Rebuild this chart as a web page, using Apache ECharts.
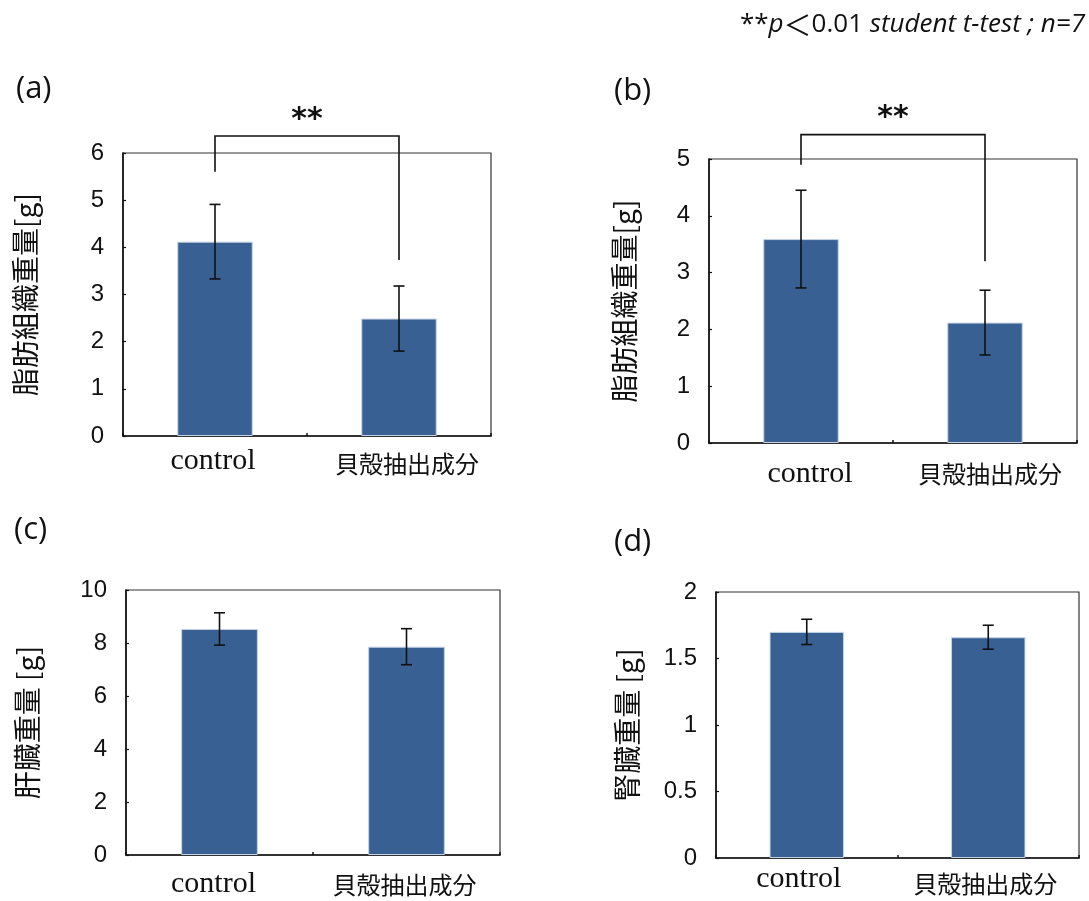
<!DOCTYPE html>
<html>
<head>
<meta charset="utf-8">
<script src="https://cdn.jsdelivr.net/npm/echarts@6/dist/echarts.min.js"></script>
<style>
  html, body { margin: 0; padding: 0; background: #fff; }
  #chart { width: 1089px; height: 901px; }
</style>
</head>
<body>
<div id="chart"></div>
<script>
// Groups
const categories = ['control', '貝殻抽出成分'];

// (a) adipose tissue weight [g]: mean and SD
const fatA = [4.12, 2.49];
const fatAErr = [0.79, 0.69];
// (b) adipose tissue weight [g]
const fatB = [3.59, 2.12];
const fatBErr = [0.86, 0.57];
// (c) liver weight [g]
const liver = [8.53, 7.86];
const liverErr = [0.61, 0.68];
// (d) kidney weight [g]
const kidney = [1.70, 1.66];
const kidneyErr = [0.095, 0.09];

// Significance brackets: [left leg start, bracket top, right leg end] in axis units
const bracketA = [5.6, 6.36, 3.73];
const bracketB = [4.9, 5.43, 3.2];

// Y-axis ranges: [max, interval]
const yRangeA = [6, 1];
const yRangeB = [5, 1];
const yRangeC = [10, 2];
const yRangeD = [2, 0.5];

const yNames = ['脂肪組織重量[g]', '脂肪組織重量[g]', '肝臓重量 [g]', '腎臓重量 [g]'];
const panelTags = ['(a)', '(b)', '(c)', '(d)'];
const noteText = '{n|**}{i|p}{c|＜}{n|0.01 }{i|student t-test ; n=7}';

const BAR = '#386092';
const sansJP = "'Noto Sans CJK JP', 'Noto Sans', sans-serif";

const grids = [
  { left: 123, top: 153, width: 368, height: 283 },
  { left: 709, top: 159, width: 368, height: 284 },
  { left: 126, top: 590, width: 374, height: 265 },
  { left: 716, top: 592, width: 363, height: 266 }
];
// per panel: [control label margin, control x shift, cjk label extra top, cjk x shift, name gap]
const labelTweaks = [
  [11, -2, 8, 8, 84],
  [17, 9, 2, 5, 71],
  [15, -6, 4, -2, 85],
  [7, -8, 12, -3, 75]
];

const panels = [
  { vals: fatA, err: fatAErr, range: yRangeA, bracket: bracketA },
  { vals: fatB, err: fatBErr, range: yRangeB, bracket: bracketB },
  { vals: liver, err: liverErr, range: yRangeC, bracket: null },
  { vals: kidney, err: kidneyErr, range: yRangeD, bracket: null }
];

function pad(shift, top) {
  return shift >= 0 ? [top, 0, 0, shift * 2] : [top, -shift * 2, 0, 0];
}

const xAxes = [], yAxes = [], series = [];
panels.forEach((p, i) => {
  const t = labelTweaks[i];
  xAxes.push({
    type: 'category', gridIndex: i, data: categories,
    axisLine: { lineStyle: { color: '#111', width: 1.6 } },
    axisTick: { show: true, inside: true, length: 3, lineStyle: { color: '#111', width: 1.5 } },
    axisLabel: {
      margin: t[0], interval: 0,
      formatter: (v, idx) => idx === 0 ? '{ser|' + v + '}' : '{cjk|' + v + '}',
      rich: {
        ser: { fontFamily: "'Liberation Serif', serif", fontSize: 30, lineHeight: 29, color: '#111', padding: pad(t[1], 0) },
        cjk: { fontFamily: sansJP, fontSize: 24, lineHeight: 26, color: '#111', padding: pad(t[3], t[2]) }
      }
    }
  });
  yAxes.push({
    type: 'value', gridIndex: i, min: 0, max: p.range[0], interval: p.range[1],
    name: yNames[i], nameLocation: 'middle', nameGap: t[4],
    nameTextStyle: { fontFamily: sansJP, fontSize: 28, color: '#111' },
    axisLine: { show: true, lineStyle: { color: '#111', width: 1.6 } },
    axisTick: { show: true, inside: true, length: 3, lineStyle: { color: '#111', width: 1.2 } },
    axisLabel: { margin: 19, fontFamily: "'Liberation Sans', Arial, sans-serif", fontSize: 24, color: '#111' },
    splitLine: { show: false }
  });
  series.push({
    type: 'bar', xAxisIndex: i, yAxisIndex: i, data: p.vals, barWidth: '41%',
    itemStyle: { color: BAR, borderColor: '#c3d2e6', borderWidth: 1 },
    silent: true, z: 2
  });
  series.push({
    type: 'custom', xAxisIndex: i, yAxisIndex: i, z: 5, silent: true,
    data: p.vals.map((v, k) => [k, v - p.err[k], v + p.err[k]]),
    renderItem: (params, api) => {
      const lo = api.coord([api.value(0), api.value(1)]);
      const hi = api.coord([api.value(0), api.value(2)]);
      const w = 5.5;
      const st = { stroke: '#111', lineWidth: 1.6 };
      return {
        type: 'group',
        children: [
          { type: 'line', shape: { x1: hi[0], y1: hi[1], x2: lo[0], y2: lo[1] }, style: st },
          { type: 'line', shape: { x1: hi[0] - w, y1: hi[1], x2: hi[0] + w, y2: hi[1] }, style: st },
          { type: 'line', shape: { x1: lo[0] - w, y1: lo[1], x2: lo[0] + w, y2: lo[1] }, style: st }
        ]
      };
    }
  });
  if (p.bracket) {
    series.push({
      type: 'custom', xAxisIndex: i, yAxisIndex: i, z: 6, silent: true, clip: false,
      data: [[0, 1, p.bracket[0], p.bracket[1], p.bracket[2]]],
      renderItem: (params, api) => {
        const a = api.coord([api.value(0), api.value(2)]);
        const topL = api.coord([api.value(0), api.value(3)]);
        const topR = api.coord([api.value(1), api.value(3)]);
        const b = api.coord([api.value(1), api.value(4)]);
        return {
          type: 'group',
          children: [
            { type: 'polyline', shape: { points: [a, topL, topR, b] },
              style: { stroke: '#111', lineWidth: 1.6, fill: null } },
            { type: 'text', x: (topL[0] + topR[0]) / 2, y: topL[1] - 16,
              style: { text: '**', fontSize: 30, fontWeight: 'bold', fontFamily: "'DejaVu Sans', sans-serif",
                       fill: '#111', align: 'center', verticalAlign: 'middle' } }
          ]
        };
      }
    });
  }
});

const tagPos = [[16, 95], [614, 97], [14, 536], [614, 548]];
const graphics = panelTags.map((s, i) => ({
  type: 'text', left: tagPos[i][0], top: tagPos[i][1] - 21,
  style: { text: s, fontSize: 31, fontFamily: "'Open Sans', 'Noto Sans', sans-serif", fill: '#111' }
}));
graphics.push({
  type: 'text', right: 4, top: 11,
  style: {
    text: noteText,
    rich: {
      n: { fontFamily: "'Open Sans', 'Noto Sans', sans-serif", fontSize: 26, fill: '#111' },
      i: { fontFamily: "'Open Sans', 'Noto Sans', sans-serif", fontStyle: 'italic', fontSize: 26, fill: '#111' },
      c: { fontFamily: sansJP, fontSize: 28, fill: '#111' }
    }
  }
});

const chart = echarts.init(document.getElementById('chart'), null, { renderer: 'canvas' });
chart.setOption({
  backgroundColor: '#fff',
  animation: false,
  grid: grids.map(g => Object.assign({ show: true, borderColor: '#333', borderWidth: 1.2, backgroundColor: 'transparent' }, g)),
  xAxis: xAxes,
  yAxis: yAxes,
  series: series,
  graphic: graphics
});
</script>
</body>
</html>
